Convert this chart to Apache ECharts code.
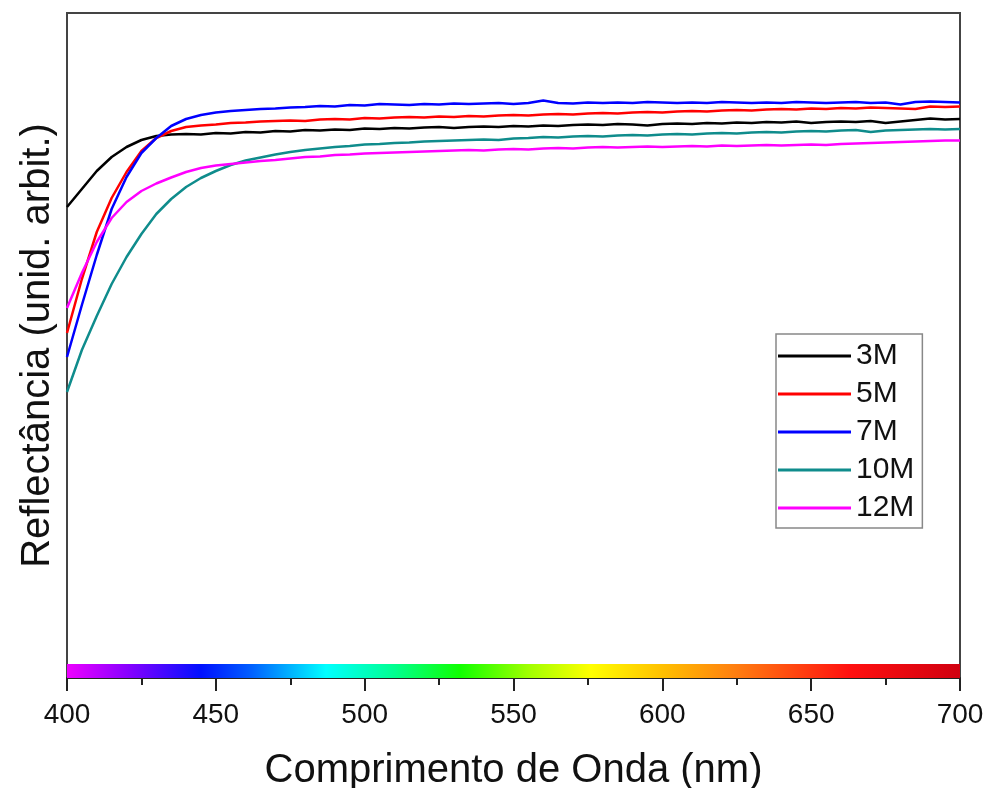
<!DOCTYPE html>
<html>
<head>
<meta charset="utf-8">
<script src="https://cdn.jsdelivr.net/npm/echarts@6/dist/echarts.min.js"></script>
<style>
  html, body { margin: 0; padding: 0; background: #fff; }
  #chart { width: 987px; height: 788px; }
</style>
</head>
<body>
<div id="chart"></div>
<script>
// comprimento de onda (nm), um ponto a cada 5 nm
const wavelengths = [];
for (let w = 400; w <= 700; w += 5) wavelengths.push(w);

// reflectância em unidades arbitrárias
const r3M = [471, 489, 507, 521, 531, 538, 542, 543.5, 544, 543.5, 545, 544.5, 546, 545.5, 547, 546.5, 548, 547.5, 548.5, 548,
  549.5, 549, 550, 549.5, 550.5, 551, 550, 551, 551.5, 551, 552, 551.5, 552.5, 552, 553, 553.5, 553, 554, 553.5, 552.5,
  554, 554.5, 554, 555, 554.5, 555.5, 555, 556, 555.5, 556.5, 555, 556, 556.5, 556, 557, 555, 556.5, 558, 559.5, 558.5, 559];
const r5M = [345, 399, 446, 480, 506, 527, 540, 547, 551, 552.5, 553.5, 555, 555.5, 556.5, 557, 557.5, 557, 558.5, 559, 558.5,
  560, 559.5, 560.5, 561, 560.5, 561.5, 561, 562, 561.5, 562.5, 563, 562.5, 563.5, 564, 563.5, 564.5, 565, 564.5, 565.5, 566,
  565.5, 566.5, 567, 566.5, 567.5, 568, 567.5, 568.5, 569, 568.5, 569.5, 569, 570, 569.5, 570.5, 570, 569.5, 569, 571.5, 571, 571.5];
const r7M = [321, 373, 423, 469, 501, 525, 540, 552, 559, 563, 565.5, 567, 568, 569, 569.5, 570.5, 571, 572, 571.5, 573,
  572.5, 574, 573.5, 573, 574, 573.5, 574.5, 574, 574.5, 575, 574, 575, 577.5, 575, 574.5, 575.5, 575, 575.5, 575, 576,
  575.5, 575, 575.5, 575, 576, 575.5, 575, 575.5, 575, 576, 575.5, 575, 575.5, 576, 575, 575.5, 573.5, 576, 576.5, 576, 575.5];
const r10M = [286, 328, 362, 394, 421, 444, 464, 479, 491, 500, 507, 513, 517.5, 520.5, 523.5, 526, 528, 529.5, 531, 532,
  533.5, 534, 535, 535.5, 536.5, 537, 537.5, 538, 538.5, 538, 539.5, 540, 541, 540.5, 541.5, 542, 541.5, 542.5, 543, 542.5,
  543.5, 544, 543.5, 544.5, 545, 544.5, 545.5, 546, 545.5, 546.5, 547, 546.5, 547.5, 548, 546, 547.5, 548, 548.5, 549, 548.5, 549];
const r12M = [370, 405, 436, 460, 476, 487, 494.5, 500.5, 506, 510, 512.5, 514, 515.5, 517, 518, 519.5, 521, 521.5, 523, 523.5,
  524.5, 525, 525.5, 526, 526.5, 527, 527.5, 528, 527.5, 528.5, 529, 528.5, 529.5, 530, 529.5, 530.5, 531, 530.5, 531, 531.5,
  531, 531.5, 532, 531.5, 532.5, 532, 532.5, 533, 532.5, 533, 533.5, 533, 534, 534.5, 535, 535.5, 536, 536.5, 537, 537.5, 537.5];

const seriesNames = ['3M', '5M', '7M', '10M', '12M'];
const seriesColors = ['#000000', '#ff0000', '#0000ff', '#0f8c8c', '#ff00ff'];
const seriesValues = [r3M, r5M, r7M, r10M, r12M];

// faixa do espectro visível (nm -> cor)
const spectrumNm = [400, 420, 445, 462, 487, 510, 532, 555, 576, 600, 624, 663, 700];
const spectrumColors = ['#ee00ff', '#8a00ff', '#0010ff', '#0060ff', '#00ffff', '#00ff90', '#10ff00', '#a0ff00', '#ffff00',
  '#ffc000', '#ff8010', '#ff1010', '#d00010'];
const spectrumHeight = 14;

const chart = echarts.init(document.getElementById('chart'));

const series = seriesNames.map((name, i) => ({
  name: name,
  type: 'line',
  data: wavelengths.map((w, j) => [w, seriesValues[i][j]]),
  showSymbol: false,
  symbol: 'none',
  lineStyle: { color: seriesColors[i], width: 2.5 },
  itemStyle: { color: seriesColors[i] },
  z: 3
}));

// barra do espectro
series[0].markArea = {
  silent: true,
  itemStyle: {
    color: {
      type: 'linear', x: 0, y: 0, x2: 1, y2: 0,
      colorStops: spectrumNm.map((nm, k) => ({ offset: (nm - 400) / 300, color: spectrumColors[k] }))
    }
  },
  data: [[{ xAxis: 400, yAxis: 0 }, { xAxis: 700, yAxis: spectrumHeight }]]
};

const option = {
  animation: false,
  backgroundColor: '#ffffff',
  textStyle: { fontFamily: 'Liberation Sans, Arial, sans-serif' },
  grid: {
    left: 67, right: 27, top: 13, bottom: 110,
    outerBoundsMode: 'none',
    show: true, borderColor: '#444', borderWidth: 2, backgroundColor: 'transparent'
  },
  legend: {
    orient: 'vertical',
    left: 776, top: 334,
    padding: [7, 8, 5, 2],
    itemWidth: 73, itemHeight: 3, itemGap: 8,
    icon: 'rect',
    borderColor: '#888', borderWidth: 1.5,
    textStyle: { fontSize: 30, color: '#111', fontFamily: 'Liberation Sans, Arial, sans-serif' },
    data: seriesNames
  },
  xAxis: {
    type: 'value',
    min: 400, max: 700, interval: 50,
    name: 'Comprimento de Onda (nm)',
    nameLocation: 'middle',
    nameGap: 73,
    nameTextStyle: { fontSize: 40, color: '#111' },
    axisLine: { show: true, lineStyle: { color: '#222', width: 2 } },
    axisTick: { show: true, inside: false, length: 13, lineStyle: { color: '#222', width: 2 } },
    minorTick: { show: true, splitNumber: 2, length: 7, lineStyle: { color: '#222', width: 2 } },
    axisLabel: { fontSize: 28, color: '#111', margin: 23 },
    splitLine: { show: false }
  },
  yAxis: {
    type: 'value',
    min: 0, max: 665,
    name: 'Reflectância (unid. arbit.)',
    nameLocation: 'middle',
    nameGap: 9,
    nameTextStyle: { fontSize: 40, color: '#111' },
    axisLine: { show: true, lineStyle: { color: '#444', width: 2 } },
    axisTick: { show: false },
    axisLabel: { show: false },
    splitLine: { show: false }
  },
  series: series
};

chart.setOption(option);
</script>
</body>
</html>
